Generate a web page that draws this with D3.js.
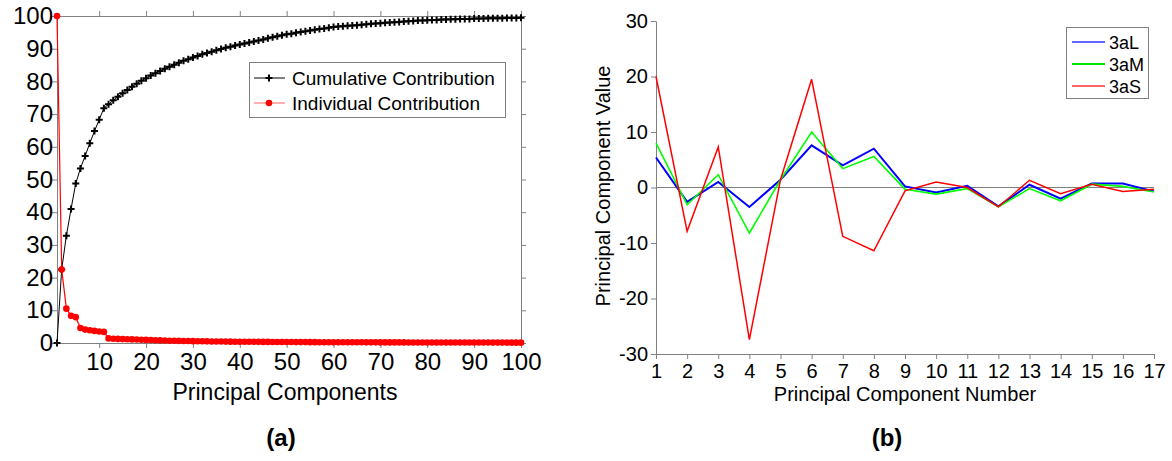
<!DOCTYPE html>
<html>
<head>
<meta charset="utf-8">
<script src="https://cdn.jsdelivr.net/npm/d3@7"></script>
<style>
  body { margin: 0; background: #fff; }
  svg { font-family: "Liberation Sans", Arial, sans-serif; }
  .axis path, .axis line { stroke: #808080; }
  .axis text { fill: #000; }
</style>
</head>
<body>
<svg id="chart" width="1172" height="461"></svg>
<script>
// (a) principal components 1..100
const components = d3.range(1, 101);

const cumulative = [
  0, 22.5, 32.8, 41.0, 48.8, 53.4, 57.2, 61.1, 64.8, 68.3,
  71.8, 73.0, 74.2, 75.3, 76.4, 77.4, 78.4, 79.3, 80.2, 81.0,
  81.8, 82.5, 83.2, 83.9, 84.5, 85.1, 85.7, 86.3, 86.8, 87.3,
  87.8, 88.3, 88.7, 89.1, 89.5, 89.9, 90.3, 90.6, 91.0, 91.3,
  91.6, 91.9, 92.2, 92.5, 92.8, 93.2, 93.5, 93.8, 94.1, 94.4,
  94.6, 94.9, 95.1, 95.3, 95.6, 95.8, 96.0, 96.2, 96.4, 96.6,
  96.8, 96.9, 97.0, 97.1, 97.2, 97.3, 97.5, 97.6, 97.7, 97.8,
  97.9, 98.0, 98.1, 98.2, 98.3, 98.4, 98.5, 98.6, 98.6, 98.7,
  98.8, 98.8, 98.9, 98.9, 99.0, 99.0, 99.1, 99.1, 99.1, 99.2,
  99.2, 99.2, 99.3, 99.3, 99.3, 99.3, 99.4, 99.4, 99.4, 99.5
];

const individual = [
  100, 22.5, 10.5, 8.3, 7.9, 4.6, 4.1, 3.9, 3.7, 3.5,
  3.4, 1.4, 1.3, 1.25, 1.2, 1.15, 1.1, 1.05, 1.0, 0.95,
  0.9, 0.85, 0.8, 0.75, 0.7, 0.68, 0.65, 0.62, 0.6, 0.57,
  0.55, 0.52, 0.5, 0.48, 0.46, 0.45, 0.43, 0.42, 0.4, 0.39,
  0.38, 0.37, 0.36, 0.35, 0.34, 0.33, 0.32, 0.31, 0.3, 0.3,
  0.29, 0.28, 0.28, 0.27, 0.26, 0.26, 0.25, 0.25, 0.24, 0.24,
  0.23, 0.23, 0.22, 0.22, 0.21, 0.21, 0.2, 0.2, 0.2, 0.19,
  0.19, 0.19, 0.18, 0.18, 0.18, 0.17, 0.17, 0.17, 0.16, 0.16,
  0.16, 0.15, 0.15, 0.15, 0.15, 0.14, 0.14, 0.14, 0.14, 0.13,
  0.13, 0.13, 0.13, 0.12, 0.12, 0.12, 0.12, 0.11, 0.11, 0.11
];

const xTicksA = [10, 20, 30, 40, 50, 60, 70, 80, 90, 100];
const yTicksA = [0, 10, 20, 30, 40, 50, 60, 70, 80, 90, 100];

// (b) principal component number 1..17
const pcNumbers = d3.range(1, 18);
const series = [
  { name: "3aL", color: "#0000ff", legend: "#6666ff", width: 2,
    values: [5.4, -2.6, 1.0, -3.5, 1.4, 7.6, 4.0, 7.0, 0.2, -0.9, 0.3, -3.4, 0.5, -2.0, 0.7, 0.7, -0.7] },
  { name: "3aM", color: "#00ff00", legend: "#00e600", width: 1.6,
    values: [8.0, -3.1, 2.3, -8.2, 1.4, 10.0, 3.4, 5.6, -0.3, -1.2, -0.2, -3.5, -0.2, -2.4, 0.6, 0.2, -0.8] },
  { name: "3aS", color: "#ff0000", legend: "#ff6666", width: 1.5,
    values: [20.0, -7.9, 7.3, -27.4, 1.4, 19.5, -8.8, -11.4, -0.6, 1.0, 0.0, -3.5, 1.3, -1.1, 0.6, -0.7, -0.3] }
];
const yTicksB = [-30, -20, -10, 0, 10, 20, 30];

const svg = d3.select("#chart");

// ---------- chart (a) ----------
const xA = d3.scaleLinear().domain([1, 100]).range([57, 521]);
const yA = d3.scaleLinear().domain([0, 100]).range([343, 16]);

const gA = svg.append("g");

gA.append("g").attr("class", "axis")
  .attr("transform", "translate(0,343)")
  .call(d3.axisBottom(xA).tickValues(xTicksA).tickSize(5).tickSizeOuter(0))
  .call(g => g.selectAll("text").attr("font-size", 24).attr("dy", "0.8em"));

gA.append("g").attr("class", "axis")
  .attr("transform", "translate(0,16)")
  .call(d3.axisTop(xA).tickValues(xTicksA).tickSize(5).tickSizeOuter(0).tickFormat(""));

gA.append("g").attr("class", "axis")
  .attr("transform", "translate(57,0)")
  .call(d3.axisLeft(yA).tickValues(yTicksA).tickSize(5).tickSizeOuter(0))
  .call(g => g.selectAll("text").attr("font-size", 24).attr("x", -4));

gA.append("g").attr("class", "axis")
  .attr("transform", "translate(521,0)")
  .call(d3.axisRight(yA).tickValues(yTicksA).tickSize(5).tickSizeOuter(0).tickFormat(""));

gA.append("text")
  .attr("x", 285).attr("y", 400)
  .attr("text-anchor", "middle")
  .attr("font-size", 23)
  .text("Principal Components");

const lineCum = d3.line().x((d, i) => xA(components[i])).y(d => yA(d));
gA.append("path")
  .attr("d", lineCum(cumulative))
  .attr("fill", "none").attr("stroke", "#000").attr("stroke-width", 1);

const plus = "M-3.5,0H3.5M0,-3.5V3.5";
gA.selectAll(".cum-pt")
  .data(cumulative)
  .enter().append("path")
  .attr("class", "cum-pt")
  .attr("transform", (d, i) => `translate(${xA(components[i])},${yA(d)})`)
  .attr("d", plus)
  .attr("stroke", "#000").attr("stroke-width", 2);

gA.append("path")
  .attr("d", lineCum(individual))
  .attr("fill", "none").attr("stroke", "#ff0000").attr("stroke-width", 1.2);

gA.selectAll(".ind-pt")
  .data(individual)
  .enter().append("circle")
  .attr("class", "ind-pt")
  .attr("cx", (d, i) => xA(components[i]))
  .attr("cy", d => yA(d))
  .attr("r", 3.3)
  .attr("fill", "#ff0000");

// legend (a)
const legA = gA.append("g");
legA.append("rect")
  .attr("x", 249.5).attr("y", 62.5).attr("width", 256).attr("height", 55)
  .attr("fill", "#fff").attr("stroke", "#808080");
legA.append("line").attr("x1", 254).attr("x2", 285).attr("y1", 78).attr("y2", 78)
  .attr("stroke", "#000");
legA.append("path").attr("transform", "translate(269,78)").attr("d", plus)
  .attr("stroke", "#000").attr("stroke-width", 2);
legA.append("text").attr("x", 292).attr("y", 85).attr("font-size", 19)
  .text("Cumulative Contribution");
legA.append("line").attr("x1", 254).attr("x2", 285).attr("y1", 103).attr("y2", 103)
  .attr("stroke", "#ff6060");
legA.append("circle").attr("cx", 269).attr("cy", 103).attr("r", 3.3).attr("fill", "#ff0000");
legA.append("text").attr("x", 292).attr("y", 110).attr("font-size", 19)
  .text("Individual Contribution");

svg.append("text")
  .attr("x", 281).attr("y", 446)
  .attr("text-anchor", "middle")
  .attr("font-size", 24).attr("font-weight", "bold")
  .text("(a)");

// ---------- chart (b) ----------
const xB = d3.scaleLinear().domain([1, 17]).range([656, 1154]);
const yB = d3.scaleLinear().domain([-30, 30]).range([354, 21]);

const gB = svg.append("g");

gB.append("line")
  .attr("x1", xB(1)).attr("x2", xB(17))
  .attr("y1", yB(0)).attr("y2", yB(0))
  .attr("stroke", "#808080");

gB.append("g").attr("class", "axis")
  .attr("transform", "translate(0,354)")
  .call(d3.axisBottom(xB).tickValues(pcNumbers).tickSize(5).tickSizeOuter(0))
  .call(g => g.selectAll("text").attr("font-size", 20).attr("dy", "0.8em"));

gB.append("g").attr("class", "axis")
  .attr("transform", "translate(656,0)")
  .call(d3.axisLeft(yB).tickValues(yTicksB).tickSize(5).tickSizeOuter(0)
    .tickFormat(d => String(d)))
  .call(g => g.selectAll("text").attr("font-size", 20).attr("x", -8));

gB.append("text")
  .attr("x", 905).attr("y", 401)
  .attr("text-anchor", "middle")
  .attr("font-size", 20)
  .text("Principal Component Number");

gB.append("text")
  .attr("transform", "translate(610,186) rotate(-90)")
  .attr("text-anchor", "middle")
  .attr("font-size", 20)
  .text("Principal Component Value");

const lineB = d3.line().x((d, i) => xB(pcNumbers[i])).y(d => yB(d));
gB.selectAll(".series")
  .data(series)
  .enter().append("path")
  .attr("class", "series")
  .attr("d", d => lineB(d.values))
  .attr("fill", "none")
  .attr("stroke", d => d.color)
  .attr("stroke-width", d => d.width);

// legend (b)
const legB = gB.append("g");
legB.append("rect")
  .attr("x", 1066.5).attr("y", 27.5).attr("width", 82).attr("height", 71)
  .attr("fill", "#fff").attr("stroke", "#808080");
series.forEach((s, i) => {
  const y = 42 + i * 22;
  legB.append("line").attr("x1", 1072).attr("x2", 1105).attr("y1", y).attr("y2", y)
    .attr("stroke", s.legend).attr("stroke-width", 2);
  legB.append("text").attr("x", 1109).attr("y", y + 7).attr("font-size", 18).text(s.name);
});

svg.append("text")
  .attr("x", 887).attr("y", 446)
  .attr("text-anchor", "middle")
  .attr("font-size", 24).attr("font-weight", "bold")
  .text("(b)");
</script>
</body>
</html>
